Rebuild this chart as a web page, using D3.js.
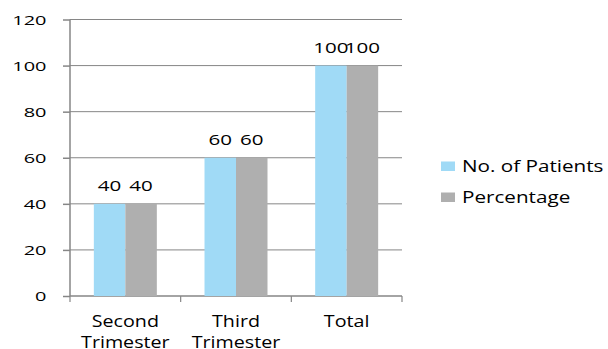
<!DOCTYPE html>
<html>
<head>
<meta charset="utf-8">
<script src="https://cdn.jsdelivr.net/npm/d3@7/dist/d3.min.js"></script>
<style>
  html, body { margin: 0; padding: 0; background: #fff; }
  svg { display: block; }
  text { font-family: "Open Sans", "Liberation Sans", sans-serif; fill: #000; }
</style>
</head>
<body>
<svg id="chart" width="608" height="349"></svg>
<script>
// Trimester groups, with the line breaks used under the axis
const categories = ["Second Trimester", "Third Trimester", "Total"];
const categoryLines = [["Second", "Trimester"], ["Third", "Trimester"], ["Total"]];
const seriesNames = ["No. of Patients", "Percentage"];
const patients = [40, 60, 100];
const percentage = [40, 60, 100];
const yTicks = [0, 20, 40, 60, 80, 100, 120];

const seriesValues = [patients, percentage];
const colors = ["#A0DAF6", "#AFAFAF"];
const axisColor = "#868686";

const svg = d3.select("#chart");

const plot = { left: 70, right: 402, top: 19.5, bottom: 296 };

const y = d3.scaleLinear().domain([0, 120]).range([plot.bottom, plot.top]);
const x = d3.scaleBand().domain(categories).range([plot.left, plot.right]).padding(0);
const xInner = d3.scaleBand().domain(seriesNames).range([0, x.bandwidth()])
  .paddingInner(0).paddingOuter(0.757);

// Horizontal gridlines
svg.append("g").selectAll("line").data(yTicks.filter(t => t > 0)).join("line")
  .attr("x1", plot.left).attr("x2", plot.right)
  .attr("y1", d => y(d)).attr("y2", d => y(d))
  .attr("stroke", axisColor).attr("stroke-width", 1);

// Y axis
const yAxis = svg.append("g").attr("transform", `translate(${plot.left},0)`)
  .call(d3.axisLeft(y).tickValues(yTicks).tickSize(7).tickPadding(0).tickFormat(""));
yAxis.selectAll("path, line").attr("stroke", axisColor).attr("stroke-width", 1.5);
yAxis.select(".domain").attr("d", `M0,${plot.bottom}V${plot.top}`);

// Y tick labels, drawn wide like the original rendering
svg.append("g").selectAll("text").data(yTicks).join("text")
  .attr("transform", d => `translate(46.5,${y(d) + 5}) scale(1.5,1)`)
  .attr("text-anchor", "end")
  .attr("font-size", 13.3)
  .text(d => d);

// X axis with boundary ticks between groups
const xAxisG = svg.append("g").attr("transform", `translate(0,${plot.bottom})`);
xAxisG.append("line").attr("x1", plot.left).attr("x2", plot.right)
  .attr("stroke", axisColor).attr("stroke-width", 1.5);
const boundaries = categories.map(c => x(c)).concat([x(categories[categories.length - 1]) + x.bandwidth()]);
xAxisG.selectAll("line.tick").data(boundaries).join("line").attr("class", "tick")
  .attr("x1", d => d).attr("x2", d => d).attr("y1", 0).attr("y2", 6)
  .attr("stroke", axisColor).attr("stroke-width", 1.2);

// Bars
const groups = svg.append("g").selectAll("g").data(categories).join("g")
  .attr("transform", c => `translate(${x(c)},0)`);
groups.selectAll("rect").data((c, i) => seriesNames.map((s, j) => ({ s, j, v: seriesValues[j][i] })))
  .join("rect")
  .attr("x", d => xInner(d.s))
  .attr("width", xInner.bandwidth())
  .attr("y", d => y(d.v))
  .attr("height", d => y(0) - y(d.v))
  .attr("fill", d => colors[d.j]);

// Value labels above each bar
groups.selectAll("text").data((c, i) => seriesNames.map((s, j) => ({ s, j, v: seriesValues[j][i] })))
  .join("text")
  .attr("transform", d => `translate(${xInner(d.s) + xInner.bandwidth() / 2},${y(d.v) - 13}) scale(1.4,1)`)
  .attr("text-anchor", "middle")
  .attr("font-size", 14.7)
  .text(d => d.v);

// Category labels, split over two lines
svg.append("g").selectAll("g").data(categories).join("g")
  .each(function (c, i) {
    d3.select(this).selectAll("text").data(categoryLines[i]).join("text")
      .attr("transform", (t, k) => `translate(${x(c) + x.bandwidth() / 2},${327 + k * 21}) scale(1.2,1)`)
      .attr("text-anchor", "middle")
      .attr("font-size", 16.4)
      .text(t => t);
  });

// Legend
const legend = svg.append("g").selectAll("g").data(seriesNames).join("g")
  .attr("transform", (s, j) => `translate(441,${161.5 + j * 31})`);
legend.append("rect").attr("width", 14).attr("height", 9.5).attr("fill", (s, j) => colors[j]);
legend.append("text")
  .attr("transform", "translate(21,10.5) scale(1.26,1)")
  .attr("font-size", 16.4)
  .text(s => s);
</script>
</body>
</html>
